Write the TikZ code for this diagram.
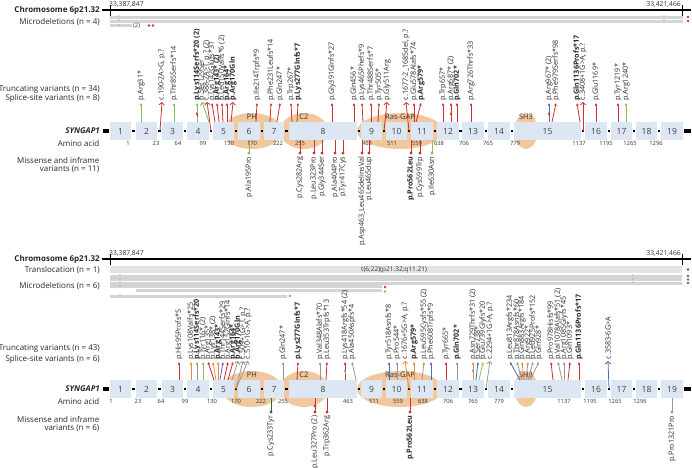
\documentclass[tikz,border=0pt]{standalone}
\usepackage{fontspec}
\setmainfont{Open Sans}
\usetikzlibrary{arrows.meta}

\definecolor{varred}{RGB}{200,52,48}
\definecolor{vargreen}{RGB}{138,188,88}
\definecolor{varblue}{RGB}{72,108,190}
\definecolor{varorange}{RGB}{230,140,58}
\definecolor{vargray}{RGB}{150,150,150}
\definecolor{vardkgreen}{RGB}{58,104,38}
\definecolor{exonblue}{RGB}{221,231,243}
\definecolor{domaintan}{RGB}{241,199,158}
\definecolor{delgray}{RGB}{212,212,212}
\definecolor{transgray}{RGB}{228,228,228}

\tikzset{
  sidelab/.style={anchor=east, inner sep=0pt, text=black!85, font=\fontsize{8}{9}\selectfont},
  poslab/.style={inner sep=0pt, text=black!80, font=\fontsize{6.8}{7}\selectfont},
  aalab/.style={inner sep=0pt, text=black!80, font=\fontsize{5.8}{6}\selectfont},
  exonnum/.style={inner sep=0pt, text=black!75, font=\fontsize{8.5}{9}\selectfont},
  domlab/.style={inner sep=0pt, text=black!80, font=\fontsize{7.5}{8}\selectfont},
  varlab/.style={rotate=90, anchor=west, inner sep=0.6pt, text=black!85, font=\fontsize{7.2}{7}\selectfont},
  mislab/.style={rotate=90, anchor=east, inner sep=0.6pt, text=black!85, font=\fontsize{7.2}{7}\selectfont},
  trunc/.style={line width=0.8pt, -{Latex[length=2.6pt,width=2.8pt]}},
  splice/.style={line width=0.8pt, -{Straight Barb[length=2.4pt,width=5.5pt]}},
  chev/.style={inner sep=0pt, text=black!45, font=\fontsize{4}{4}\selectfont},
}

\begin{document}
\begin{tikzpicture}[x=1pt,y=-1pt]
\useasboundingbox (0,0) rectangle (692,467);

% gene model, drawn for both cohorts
\foreach \gy in {131,389} {
  \fill[domaintan] (252,\gy) ellipse [x radius=30pt, y radius=18pt];
  \fill[domaintan] (304,\gy) ellipse [x radius=24pt, y radius=18pt];
  \fill[domaintan] (400,\gy) ellipse [x radius=43pt, y radius=18pt];
  \fill[domaintan] (526,\gy) ellipse [x radius=11.5pt, y radius=18pt];
  \node[domlab] at (252,\gy-14) {PH};
  \node[domlab] at (304,\gy-14) {C2};
  \node[domlab] at (400,\gy-14) {Ras-GAP};
  \node[domlab] at (526,\gy-14) {SH3};
  \foreach \n/\a/\b in {1/110/131, 2/136/157, 3/162/183, 4/187/209, 5/213/234,
      6/238/260, 7/264/284, 8/289/357, 9/361/382, 10/386/407, 11/411/433,
      12/437/459, 13/462/484, 14/488/510, 15/514/581, 16/585/607, 17/611/632,
      18/636/657, 19/661/683} {
    \fill[exonblue] (\a,\gy-9) rectangle (\b,\gy+9);
    \node[exonnum] at ({(\a+\b)/2},\gy) {\n};
  }
  \foreach \m in {133.5,159.5,185,211,236,262,286.5,359,384,409,435,460.5,
      486,512,583,609,634,659}
    \fill (\m-1.3,\gy-1.3) rectangle (\m+1.3,\gy+1.3);
  \fill (103,\gy-1.7) rectangle (109,\gy+1.7);
  \fill (684,\gy-1.7) rectangle (691,\gy+1.7);
}

% ---------- upper cohort ----------
\node[sidelab, font=\bfseries\fontsize{8}{9}\selectfont] (chrA) at (100,10) {Chromosome 6p21.32};
\draw[line width=1.2pt] ([xshift=1.5pt]chrA.east) -- (691,10);
\draw[line width=0.8pt] (110,4.5) -- (110,15.5);
\draw[line width=0.8pt] (682,4.5) -- (682,15.5);
\node[poslab, anchor=south west] at (109,7.5) {33,387,847};
\node[poslab, anchor=south east] at (681,7.5) {33,421,466};

\node[sidelab] at (100,22) {Microdeletions (n = 4)};
\foreach \ry in {17,21} {
  \fill[delgray] (110,\ry-1.5) rectangle (683,\ry+1.5);
  \node[chev] at (119,\ry) {<<};
  \node[chev] at (664,\ry) {>>};
  \fill[varred] (688,\ry) circle (1.4pt);
}
\fill[delgray] (110,24) rectangle (132,27);
\node[chev] at (119,25.5) {<<};
\node[poslab, anchor=west, font=\fontsize{6}{6}\selectfont] at (133,25.5) {(2)};
\fill[varred] (149,25.5) circle (1.4pt);
\fill[varred] (153,25.5) circle (1.4pt);

\node[sidelab] at (100,90) {Truncating variants (n = 34)};
\node[sidelab] at (100,98) {Splice-site variants (n = 8)};
\node[sidelab, font=\bfseries\itshape\fontsize{8}{9}\selectfont] at (100,131) {SYNGAP1};
\node[sidelab] at (99.5,143) {Amino acid};
\node[sidelab] at (99.5,160) {Missense and inframe};
\node[sidelab] at (99.5,169) {variants (n = 11)};

\foreach \aa/\ax in {1/128, 23/156, 64/178, 99/203, 130/229, 170/252, 222/278,
    255/300, 463/367, 511/392, 559/417, 638/439, 706/464, 765/488, 779/515,
    1137/579, 1195/606, 1265/630, 1296/656}
  \node[aalab] at (\ax,143) {\aa};

% truncating variants
\foreach \bx/\tx/\col/\lab in {
    141/141/vargreen/{p.Arg31*},
    174/174/vargreen/{p.Thr85Serfs*14},
    197/197/vargreen/{\textbf{p.Lys114Serfs*20 (2)}},
    215/212/varred/{p.Lys142Glufs*31},
    219/217/varred/{\textbf{p.Arg143* (2)}},
    223/222/varred/{p.Leu150Valfs*6 (2)},
    227/227/varred/{\textbf{p.Arg164*}},
    256/257/varred/{p.Ile214Trpfs*9},
    270/271/varred/{p.Phe231Leufs*14},
    277/280/varred/{p.Gln247*},
    292/291/varred/{p.Trp267*},
    297/298/varred/{\textbf{p.Lys277Glnfs*7}},
    332/332/varred/{p.Gly391Glnfs*27},
    354/354/varred/{p.Gln456*},
    363/362/varred/{p.Lys465Phefs*9},
    371/371/varred/{p.Thr488Serfs*7},
    378/379/varred/{p.Tyr505*},
    414/414/varred/{p.Glu578Alafs*74},
    416/421/varred/{\textbf{p.Arg579*}},
    443/443/varred/{p.Trp657*},
    451/451/varred/{p.Arg687* (2)},
    457/457/varred/{\textbf{p.Gln702*}},
    471/471/varred/{p.Arg726Thrfs*33},
    549/549/varblue/{p.Arg967* (2)},
    552/556/varred/{p.Phe979Serfs*98},
    580/577/varred/{\textbf{p.Gln1136Profs*17}},
    596/596/varred/{p.Glu1169*},
    618/618/varred/{p.Tyr1219*},
    626/626/vargreen/{p.Arg1240*}} {
  \draw[trunc, \col] (\bx,122) -- (\tx,103);
  \node[varlab] at (\tx,101.5) {\lab};
}
\draw[trunc, varred] (197,117) -- (197,112);
\draw[trunc, varred] (451,117) -- (451,112);
\draw[trunc, varred] (549,117) -- (549,112);

% splice-site variants
\foreach \bx/\by/\tx/\col/\lab in {
    160/131/162/varred/{c.190-2A>G, p.?},
    209/122/202/vargreen/{p.Ser129Ser},
    211/131/207/varred/{c.388-2A>T, p.? (2)},
    231/122/233/varred/{\textbf{p.Arg170Gln}},
    384/131/387/varred/{p.Gly511Arg},
    409/131/406/varred/{c.1677-2\_1685del, p.?},
    583/131/583/varred/{c.3408+1G>A, p.?}} {
  \draw[splice, \col] (\bx,\by) -- (\tx,102);
  \node[varlab] at (\tx,101) {\lab};
}

% missense and inframe variants
\foreach \mx/\col/\lab in {
    249/vargreen/{p.Ala195Pro}, 300/varred/{p.Cys282Arg},
    314/varred/{p.Leu323Pro}, 322/varred/{p.Gly344Ser},
    335/varred/{p.Ala404Pro}, 343/varred/{p.Tyr417Cys},
    362/varred/{p.Asp463\_Leu465delinsVal}, 369/varred/{p.Leu465dup},
    411/varred/{\textbf{p.Pro562Leu}}, 420/varred/{p.Cys599Trp},
    432/vargreen/{p.Ile630Asn}} {
  \draw[\col, line width=0.8pt] (\mx,140) -- (\mx,153);
  \fill[\col] (\mx,153) circle (1.6pt);
  \node[mislab] at (\mx,156) {\lab};
}

% ---------- lower cohort ----------
\node[sidelab, font=\bfseries\fontsize{8}{9}\selectfont] (chrB) at (100,259) {Chromosome 6p21.32};
\draw[line width=1.2pt] ([xshift=1.5pt]chrB.east) -- (691,259);
\draw[line width=0.8pt] (110,253.5) -- (110,264.5);
\draw[line width=0.8pt] (682,253.5) -- (682,264.5);
\node[poslab, anchor=south west] at (109,256.5) {33,387,847};
\node[poslab, anchor=south east] at (681,256.5) {33,421,466};

\node[sidelab] at (100,270) {Translocation (n = 1)};
\fill[transgray] (110,266) rectangle (682,273);
\node[poslab, anchor=west, font=\fontsize{6.5}{7}\selectfont] at (361,269.5) {t(6;22)(p21.32;q11.21)};
\fill[varred] (688,269.5) circle (1.4pt);

\node[sidelab] at (100,286) {Microdeletions (n = 6)};
\foreach \ry/\col in {276/varred, 279.5/varblue, 283/varblue} {
  \fill[delgray] (110,\ry-1.5) rectangle (682,\ry+1.5);
  \node[chev] at (120,\ry) {<<};
  \node[chev] at (633,\ry) {>>};
  \fill[\col] (688,\ry) circle (1.4pt);
}
\fill[delgray] (110,285) rectangle (382,288);
\node[chev] at (120,286.5) {<<};
\fill[varred] (385,287) circle (1.4pt);
\fill[delgray] (136,289) rectangle (382,292);
\fill[varorange] (385,291.5) circle (1.4pt);
\fill[delgray] (110,294.5) rectangle (287,297.5);
\node[chev] at (120,296) {<<};
\fill[vargray] (290,296) circle (1.4pt);

\node[sidelab] at (100,349) {Truncating variants (n = 43)};
\node[sidelab] at (100,359) {Splice-site variants (n = 6)};
\node[sidelab, font=\bfseries\itshape\fontsize{8}{9}\selectfont] at (100,389) {SYNGAP1};
\node[sidelab] at (99.5,401) {Amino acid};
\node[sidelab] at (99.5,419) {Missense and inframe};
\node[sidelab] at (99.5,428) {variants (n = 6)};

\foreach \aa/\ax in {1/111, 23/138, 64/161, 99/185, 130/212, 170/236, 222/261,
    255/283, 463/348, 511/374, 559/398, 638/423, 706/448, 765/473, 779/499,
    1137/564, 1195/590, 1265/615, 1296/640}
  \node[aalab] at (\ax,401) {\aa};

% truncating variants
\foreach \bx/\tx/\col/\lab in {
    179/179/varred/{p.His95Profs*5},
    191/191/varorange/{p.Lys108Valfs*25},
    197/197/vargray/{\textbf{p.Lys114Serfs*20}},
    203/203/vargreen/{p.Tyr116* (2)},
    214/208/varred/{p.Arg135*},
    216/213/varorange/{p.Lys138* (2)},
    218/218/varorange/{\textbf{p.Arg143*}},
    220/223/varblue/{p.Thr144Serfs*29},
    224/228/varred/{p.Arg152Glnfs*14},
    228/233/varred/{\textbf{p.Arg164*}},
    283/283/vargray/{p.Gln247*},
    297/298/varred/{\textbf{p.Lys277Glnfs*7}},
    320/320/vargray/{p.Val348Alafs*70},
    326/327/varred/{p.Leu353Trpfs*13},
    345/345/varred/{p.Lys418Argfs*54 (2)},
    356/352/vargray/{p.Ala450Aspfs*4},
    389/389/varblue/{p.Tyr518Asnfs*8},
    397/397/vargray/{p.Pro544*},
    414/414/varorange/{\textbf{p.Arg579*}},
    422/424/vargray/{p.Leu595Cysfs*55 (2)},
    431/431/varblue/{p.Phe608Trpfs*9},
    446/446/varred/{p.Tyr665*},
    457/457/vargray/{\textbf{p.Gln702*}},
    473/473/varorange/{p.Asn729Thrfs*31 (2)},
    476/478/varblue/{p.Ser738*},
    479/483/vargreen/{p.Glu739Glyfs*20},
    520/510/varblue/{p.Leu813Argfs*234},
    522/517/vargray/{p.Thr878Asnfs*60},
    524/522/varorange/{p.Gln883Argfs*184},
    526/528/vargray/{p.Arg922*},
    528/533/vargray/{p.Leu925Profs*152},
    530/539/vargray/{p.Gln928*},
    553/551/varred/{p.Pro978Hisfs*99},
    562/558/vargray/{p.Val1078Alafs*51 (2)},
    564/564/vargray/{p.Arg1085Glyfs*45},
    568/570/varred/{p.Gln1093*},
    579/579/varred/{\textbf{p.Gln1136Profs*17}}} {
  \draw[trunc, \col] (\bx,380) -- (\tx,362);
  \node[varlab] at (\tx,360.5) {\lab};
}
\draw[trunc, vargray] (345,374) -- (345,369);
\draw[trunc, vargray] (473,374) -- (473,369);

% splice-site variants
\foreach \bx/\by/\tx/\col/\lab in {
    232/380/238/vargray/{\textbf{p.Arg170Gln}},
    236/389/243/vargray/{c.509+1G>T, p.?},
    236/389/248/vargray/{c.510-1G>A, p.?},
    409/389/405/varorange/{c.1676+5G>A, p.?},
    486/389/490/vargray/{c.2294+1G>A, p.?},
    609/389/608/varblue/{c.3583-6G>A}} {
  \draw[splice, \col] (\bx,\by) -- (\tx,361);
  \node[varlab] at (\tx,360) {\lab};
}

% missense and inframe variants
\foreach \mx/\col/\lab in {
    271/vardkgreen/{p.Cys233Tyr}, 315/varred/{p.Leu327Pro (2)},
    327/varred/{p.Trp362Arg}, 410/varred/{\textbf{p.Pro562Leu}},
    672/vargray/{p.Pro1321Pro}} {
  \draw[\col, line width=0.8pt] (\mx,398) -- (\mx,412);
  \fill[\col] (\mx,412) circle (1.6pt);
  \node[mislab] at (\mx,415) {\lab};
}
\fill[varred] (315,406) circle (1.6pt);
\end{tikzpicture}
\end{document}
